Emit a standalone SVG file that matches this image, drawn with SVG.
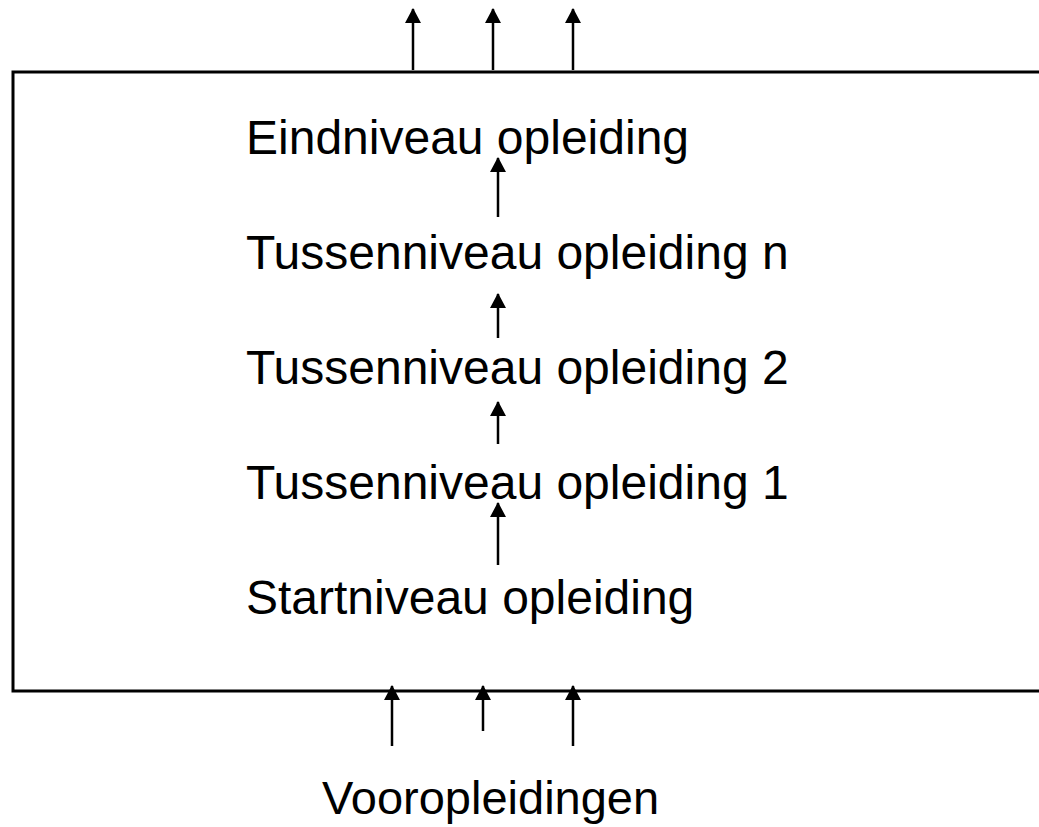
<svg xmlns="http://www.w3.org/2000/svg" width="1039" height="827" viewBox="0 0 1039 827">
<style>
text{font-family:"Liberation Sans",Arial,sans-serif;font-size:48px;fill:#000}
#n-voor text{font-size:47px}
.c line{stroke:#000;stroke-width:2.5}
.frame{fill:none;stroke:#000;stroke-width:3}
</style>
<defs>
<marker id="ah" viewBox="0 0 15 16" refX="14" refY="8" markerWidth="15" markerHeight="16" markerUnits="userSpaceOnUse" orient="auto">
<path d="M0,0 L15,8 L0,16 Z" fill="#000"/>
</marker>
</defs>
<rect width="1039" height="827" fill="#fff"/>
<g id="box"><path class="frame" d="M1039,72 H13 V691 H1039"/></g>
<g id="n-eind"><text x="246" y="154">Eindniveau opleiding</text></g>
<g id="n-tn"><text x="246" y="269">Tussenniveau opleiding n</text></g>
<g id="n-t2"><text x="246" y="384">Tussenniveau opleiding 2</text></g>
<g id="n-t1"><text x="246" y="499">Tussenniveau opleiding 1</text></g>
<g id="n-start"><text x="246" y="614">Startniveau opleiding</text></g>
<g id="n-voor"><text x="322" y="814">Vooropleidingen</text></g>
<g class="c" id="connectors">
<line x1="413" y1="70" x2="413" y2="9" marker-end="url(#ah)"/>
<line x1="493" y1="70" x2="493" y2="9" marker-end="url(#ah)"/>
<line x1="573" y1="70" x2="573" y2="9" marker-end="url(#ah)"/>
<line x1="498" y1="217" x2="498" y2="158" marker-end="url(#ah)"/>
<line x1="498" y1="338" x2="498" y2="294" marker-end="url(#ah)"/>
<line x1="498" y1="444" x2="498" y2="402" marker-end="url(#ah)"/>
<line x1="498" y1="565" x2="498" y2="503" marker-end="url(#ah)"/>
<line x1="392" y1="746" x2="392" y2="686" marker-end="url(#ah)"/>
<line x1="483" y1="731" x2="483" y2="686" marker-end="url(#ah)"/>
<line x1="573" y1="746" x2="573" y2="686" marker-end="url(#ah)"/>
</g>
</svg>
